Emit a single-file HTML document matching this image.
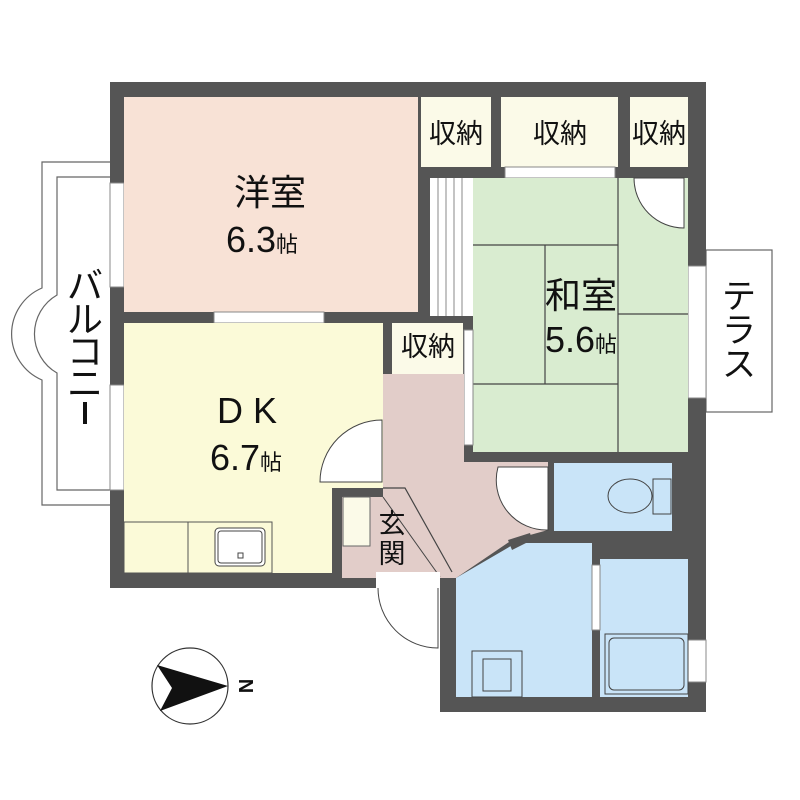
<!DOCTYPE html>
<html><head><meta charset="utf-8"><style>
html,body{margin:0;padding:0;background:#fff;}
svg{display:block;}
text{font-family:"Liberation Sans","Noto Sans CJK JP",sans-serif;fill:#111;}
</style></head><body>
<svg width="800" height="800" viewBox="0 0 800 800" xmlns="http://www.w3.org/2000/svg">
<!-- balcony -->
<path d="M110,162 H42 V288 A50,50 0 0 0 42,380 V505 H110" fill="none" stroke="#666" stroke-width="1.2"/>
<path d="M110,177 H57 V295 A45,45 0 0 0 57,373 V490 H110" fill="none" stroke="#666" stroke-width="1.2"/>
<g font-size="36" text-anchor="middle">
<text x="85" y="298">バ</text>
<text x="85" y="332">ル</text>
<text x="85" y="364">コ</text>
<text x="85" y="396">ニ</text>
</g>
<rect x="83" y="402" width="4" height="22" fill="#111"/>
<!-- terrace -->
<rect x="706" y="250" width="66" height="162" fill="#fff" stroke="#666" stroke-width="1.2"/>
<g font-size="34" text-anchor="middle">
<text x="739" y="308">テ</text>
<text x="739" y="342">ラ</text>
<text x="739" y="376">ス</text>
</g>
<!-- building footprint -->
<polygon points="110,82 706,82 706,712 440,712 440,588 110,588" fill="#555"/>
<rect x="110" y="183" width="14" height="104" fill="#fff" stroke="#888"/>
<rect x="110" y="385" width="14" height="105" fill="#fff" stroke="#888"/>
<rect x="688" y="266" width="18" height="132" fill="#fff" stroke="#888"/>
<rect x="688" y="640" width="18" height="42" fill="#fff" stroke="#888"/>
<!-- 洋室 -->
<rect x="124" y="97" width="294" height="215" fill="#f8e2d6"/>
<rect x="214" y="312" width="110" height="11" fill="#fff" stroke="#888"/>
<!-- DK -->
<rect x="124" y="323" width="259" height="250" fill="#fbfad8"/>
<!-- closets -->
<rect x="421" y="97" width="70" height="70" fill="#fbfae8"/>
<rect x="501" y="97" width="117" height="70" fill="#fbfae8"/>
<rect x="630" y="97" width="58" height="70" fill="#fbfae8"/>
<rect x="505" y="167" width="110" height="11" fill="#fff" stroke="#888"/>
<rect x="392" y="323" width="71" height="51" fill="#fbfae8"/>
<!-- stripes -->
<rect x="430" y="178" width="44" height="138" fill="#fff"/>
<g stroke="#888" stroke-width="1">
<line x1="438" y1="178" x2="438" y2="316"/><line x1="446" y1="178" x2="446" y2="316"/>
<line x1="454" y1="178" x2="454" y2="316"/><line x1="462" y1="178" x2="462" y2="316"/>
</g>
<!-- 和室 -->
<rect x="473" y="178" width="215" height="274" fill="#d9ecd0"/>
<g stroke="#444" stroke-width="1.2">
<line x1="473" y1="245" x2="618" y2="245"/>
<line x1="618" y1="178" x2="618" y2="452"/>
<line x1="618" y1="314" x2="688" y2="314"/>
<line x1="545" y1="245" x2="545" y2="384"/>
<line x1="473" y1="384" x2="618" y2="384"/>
</g>
<path d="M634,178 A50,50 0 0 0 684,228 V178 Z" fill="#fff" stroke="#444"/>
<rect x="464" y="330" width="9" height="115" fill="#fff" stroke="#888"/>
<!-- hallway -->
<polygon points="383,374 464,374 464,462 548,462 548,530 512,540 456,578 342,578 342,497 383,497" fill="#e2cdc9"/>
<rect x="332" y="488" width="51" height="9" fill="#555"/>
<polyline points="383,488 405,488 452,572" fill="none" stroke="#444" stroke-width="1.2"/>
<line x1="383" y1="497" x2="440" y2="577" stroke="#444"/>
<rect x="343" y="497" width="27" height="49" fill="#fbfae8" stroke="#666"/>
<rect x="332" y="488" width="10" height="90" fill="#555"/>
<path d="M382,420 A62,62 0 0 0 320,482 H382 Z" fill="#fff" stroke="#444"/>
<!-- kitchen -->
<rect x="124" y="522" width="148" height="51" fill="#fbfad8" stroke="#555"/>
<line x1="188" y1="522" x2="188" y2="573" stroke="#555"/>
<rect x="215" y="528" width="50" height="38" rx="4" fill="#fff" stroke="#444"/>
<rect x="218" y="531" width="44" height="32" rx="3" fill="none" stroke="#444"/>
<rect x="238" y="553" width="5" height="5" fill="none" stroke="#444"/>
<!-- entrance door -->
<rect x="376" y="572" width="64" height="16" fill="#fff"/>
<path d="M378,588 A60,60 0 0 0 438,648 V588" fill="#fff" stroke="#444"/>
<!-- toilet -->
<rect x="554" y="463" width="118" height="68" fill="#c9e4f8"/>
<path d="M498,467 H548 V530 A50,50 0 0 1 498,467 Z" fill="#fff" stroke="#444"/>
<ellipse cx="630" cy="496" rx="22" ry="17" fill="#c9e4f8" stroke="#444"/>
<rect x="653" y="479" width="18" height="35" fill="#c9e4f8" stroke="#444"/>
<!-- washroom -->
<polygon points="456,578 516,543 592,543 592,697 456,697" fill="#c9e4f8"/>
<polygon points="508,540 530,533 532,540 512,550" fill="#555"/>
<rect x="472" y="651" width="50" height="46" fill="#c9e4f8" stroke="#444"/>
<rect x="483" y="659" width="28" height="32" fill="#c9e4f8" stroke="#444"/>
<!-- bathroom -->
<rect x="600" y="559" width="88" height="138" fill="#c9e4f8"/>
<rect x="592" y="565" width="8" height="65" fill="#fff" stroke="#888"/>
<rect x="605" y="634" width="83" height="60" fill="#c9e4f8" stroke="#444"/>
<rect x="609" y="638" width="75" height="52" rx="5" fill="none" stroke="#444"/>
<!-- labels -->
<g text-anchor="middle">
<text x="270" y="205" font-size="36">洋室</text>
<text x="262" y="252" font-size="36">6.3<tspan font-size="22">帖</tspan></text>
<text x="581" y="308" font-size="36">和室</text>
<text x="581" y="352" font-size="36">5.6<tspan font-size="22">帖</tspan></text>
<text x="247" y="423" font-size="36">D K</text>
<text x="246" y="470" font-size="36">6.7<tspan font-size="22">帖</tspan></text>
<text x="456" y="143" font-size="27">収納</text>
<text x="560" y="143" font-size="27">収納</text>
<text x="659" y="143" font-size="27">収納</text>
<text x="428" y="356" font-size="27">収納</text>
<text x="392" y="533" font-size="27">玄</text>
<text x="392" y="563" font-size="27">関</text>
</g>
<!-- compass -->
<ellipse cx="190" cy="686" rx="38" ry="38" fill="#fff" stroke="#333" stroke-width="1.2"/>
<polygon points="157,665 228,686 160,711 172,688" fill="#111"/>
<text x="246" y="686" font-size="20" font-weight="bold" text-anchor="middle" transform="rotate(90 246 686)" dy="7">N</text>
</svg>
</body></html>
